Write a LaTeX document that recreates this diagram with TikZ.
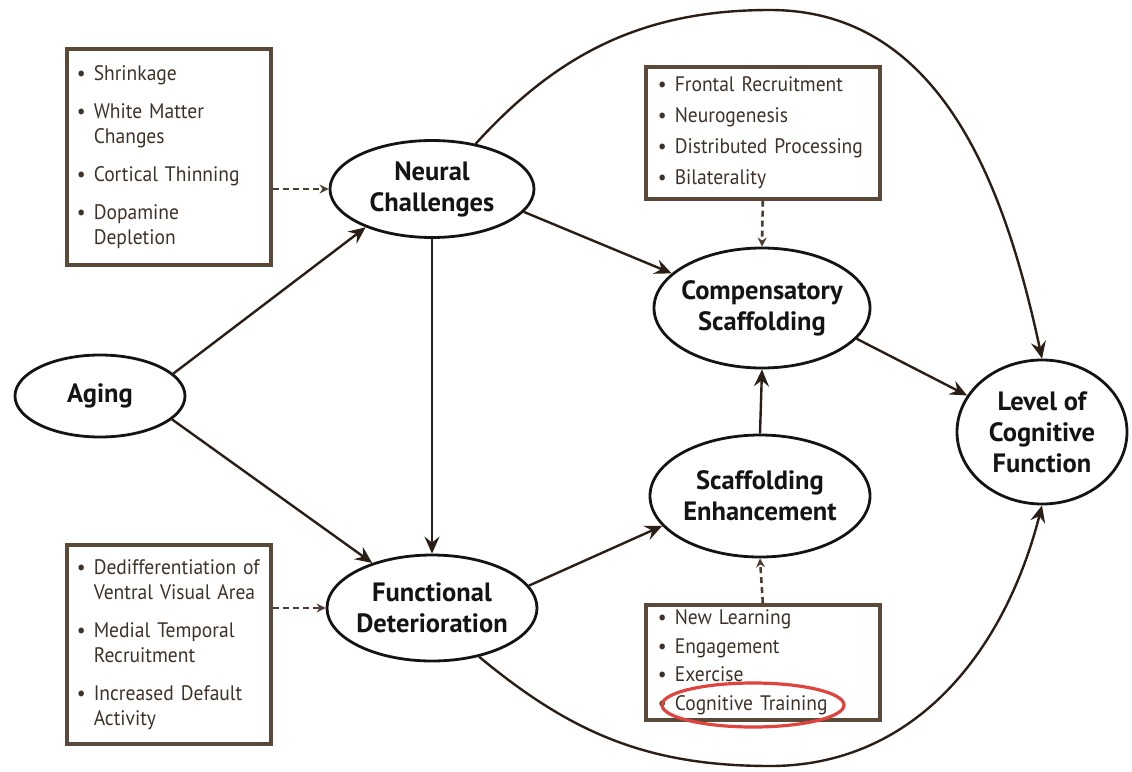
\documentclass[tikz,border=0pt]{standalone}
\usepackage{fontspec}
\setmainfont{PT Sans}
\newfontfamily\listfont{PT Sans}[FakeStretch=0.93]
\usetikzlibrary{arrows.meta,shapes.geometric,calc}
\definecolor{boxbrown}{HTML}{5A4839}
\definecolor{txtbrown}{HTML}{3F3229}
\definecolor{arrowbrown}{HTML}{2A1E16}
\definecolor{dashbrown}{HTML}{4E3E31}
\definecolor{markred}{HTML}{E0443F}
\newcommand{\itm}[1]{\makebox[17pt][l]{\textbullet}\mbox{#1}}
\newcommand{\cnt}[1]{\hspace*{17pt}\mbox{#1}}
\begin{document}
\begin{tikzpicture}[x=1pt,y=-1pt,
  oval/.style={ellipse,draw=black!92,line width=2.8pt,inner sep=-30pt,
    font=\fontsize{26.5}{31}\selectfont\bfseries,align=center,text=black!92},
  listbox/.style={draw=boxbrown,line width=3.6pt,anchor=north west,inner xsep=10pt,inner ysep=0pt,
    font=\listfont\fontsize{21}{25}\selectfont,text=txtbrown,align=left},
  flow/.style={draw=arrowbrown,line width=2.4pt,-{Stealth[length=17pt,width=15pt,inset=6pt]}},
  dashflow/.style={draw=dashbrown,line width=2.6pt,dash pattern=on 6pt off 4pt,-{Stealth[length=9pt,width=9pt]}},
]
\useasboundingbox (0,0) rectangle (1132,771);
\fill[white] (0,0) rectangle (1132,771);

% ovals
\node[oval,minimum width=170pt,minimum height=82pt] (aging) at (100,396) {Aging};
\node[oval,minimum width=204pt,minimum height=97pt] (nc) at (432,189) {Neural\\Challenges};
\node[oval,minimum width=210pt,minimum height=106pt] (fd) at (432,608) {Functional\\Deterioration};
\node[oval,minimum width=216pt,minimum height=120pt] (cs) at (762,308) {Compensatory\\Scaffolding};
\node[oval,minimum width=220pt,minimum height=122pt] (se) at (760,496) {Scaffolding\\Enhancement};
\node[oval,minimum width=170pt,minimum height=144pt] (lev) at (1042,432) {Level of\\Cognitive\\Function};

% list boxes
\node[listbox,text width=184pt,minimum height=216pt] (tl) at (65,47)
  {\itm{Shrinkage}\\[13pt]\itm{White Matter}\\\cnt{Changes}\\[13pt]\itm{Cortical Thinning}\\[13pt]\itm{Dopamine}\\\cnt{Depletion}};
\node[listbox,text width=184pt,minimum height=199pt] (bl) at (65,543)
  {\itm{Dedifferentiation of}\\\cnt{Ventral Visual Area}\\[13pt]\itm{Medial Temporal}\\\cnt{Recruitment}\\[13pt]\itm{Increased Default}\\\cnt{Activity}};
\node[listbox,text width=210pt,inner xsep=12pt,minimum height=132pt,font=\listfont\fontsize{21}{31}\selectfont] (tr) at (644,65)
  {\itm{Frontal Recruitment}\\\itm{Neurogenesis}\\\itm{Distributed Processing}\\\itm{Bilaterality}};
\node[listbox,text width=210pt,inner xsep=12pt,minimum height=115pt,font=\listfont\fontsize{21}{28.5}\selectfont] (br) at (644,603)
  {\itm{New Learning}\\\itm{Engagement}\\\itm{Exercise}\\\itm{Cognitive Training}};

% red mark
\draw[markred,line width=3.2pt] (753,705) ellipse [x radius=91, y radius=22];

% solid connectors
\draw[flow] (aging.17) -- (nc.210);
\draw[flow] (aging.-18) -- (fd.143);
\draw[flow] (nc.south) -- (fd.north);
\draw[flow] (nc.-14) -- (cs.159);
\draw[flow] (fd.13) -- (se.197);
\draw[flow] (se.north) -- (cs.south);
\draw[flow] (cs.-18) -- (lev.154);
\draw[flow] (nc.46) .. controls (559,52) and (645,10) .. (770,10)
  .. controls (943,10) and (1006,191) .. (lev.north);
\draw[flow] (fd.-46) .. controls (570,732) and (646,766) .. (770,766)
  .. controls (918,766) and (1006,647) .. (lev.south);

% dashed connectors
\draw[dashflow] (tl.east |- nc.west) -- (nc.west);
\draw[dashflow] (bl.east |- fd.west) -- (fd.west);
\draw[dashflow] (tr.south) -- (cs.north);
\draw[dashflow] (br.north) -- (se.south);
\end{tikzpicture}
\end{document}
